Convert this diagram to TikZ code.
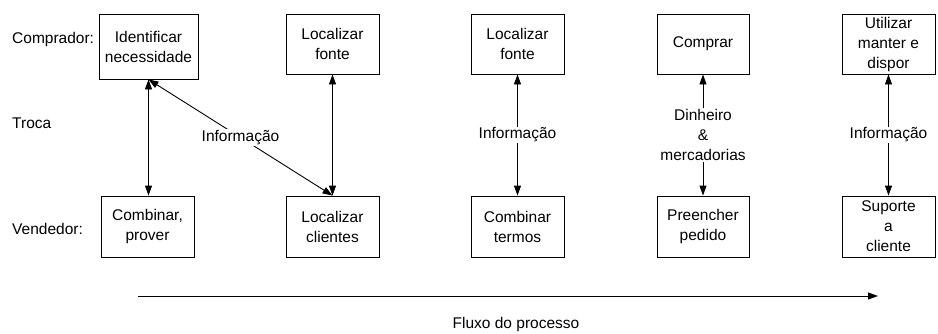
\documentclass[tikz,border=0pt]{standalone}
\usepackage{fontspec}
\setmainfont{Liberation Sans}
\usetikzlibrary{arrows.meta}
\begin{document}
\begin{tikzpicture}[x=1pt,y=-1pt,
  txt/.style={font=\fontsize{15.5}{20}\selectfont},
  box/.style={draw,line width=0.9pt,align=center,inner sep=0pt,txt},
  lab/.style={txt,align=center,fill=white,inner sep=1pt},
  side/.style={txt,anchor=west,inner sep=0pt},
  arr/.style={line width=0.9pt,{Triangle[length=10pt,width=7pt]}-{Triangle[length=10pt,width=7pt]}},
  flow/.style={line width=0.9pt,-{Triangle[length=10pt,width=7pt]}}]
\useasboundingbox (0,0) rectangle (938,333);
% buyer row
\node[box,minimum width=99pt,minimum height=65pt] (b1) at (148.5,46.5) {Identificar\\necessidade};
\node[box,minimum width=93pt,minimum height=60pt] (b2) at (332.5,44) {Localizar\\fonte};
\node[box,minimum width=93pt,minimum height=60pt] (b3) at (517.5,44) {Localizar\\fonte};
\node[box,minimum width=92pt,minimum height=60pt] (b4) at (703,44) {Comprar};
\node[box,minimum width=93pt,minimum height=60pt] (b5) at (888.5,44) {Utilizar\\manter e\\dispor};
% seller row
\node[box,minimum width=93pt,minimum height=61pt] (v1) at (147.5,226.5) {Combinar,\\prover};
\node[box,minimum width=93pt,minimum height=61pt] (v2) at (332.5,226.5) {Localizar\\clientes};
\node[box,minimum width=93pt,minimum height=61pt] (v3) at (517.5,226.5) {Combinar\\termos};
\node[box,minimum width=92pt,minimum height=61pt] (v4) at (703,226.5) {Preencher\\pedido};
\node[box,minimum width=93pt,minimum height=61pt] (v5) at (888.5,226.5) {Suporte\\a\\cliente};
% side labels
\node[side] (lc) at (12,39) {Comprador:};
\node[side] (lt) at (12,123) {Troca};
\node[side] (lv) at (12,229) {Vendedor:};
% connectors
\draw[arr] (b1.south) -- (v1.north -| b1.south);
\draw[arr] (b1.south) -- node[lab] {Informação} (v2.north);
\draw[arr] (b2.south) -- (v2.north);
\draw[arr] (b3.south) -- node[lab] {Informação} (v3.north);
\draw[arr] (b4.south) -- node[lab] {Dinheiro\\\&\\mercadorias} (v4.north);
\draw[arr] (b5.south) -- node[lab] {Informação} (v5.north);
% process flow
\coordinate (ps) at (138,296);
\coordinate (pe) at (878,296);
\draw[flow] (ps) -- (pe);
\node[txt,inner sep=0pt] (fl) at (516,324) {Fluxo do processo};
\end{tikzpicture}
\end{document}
